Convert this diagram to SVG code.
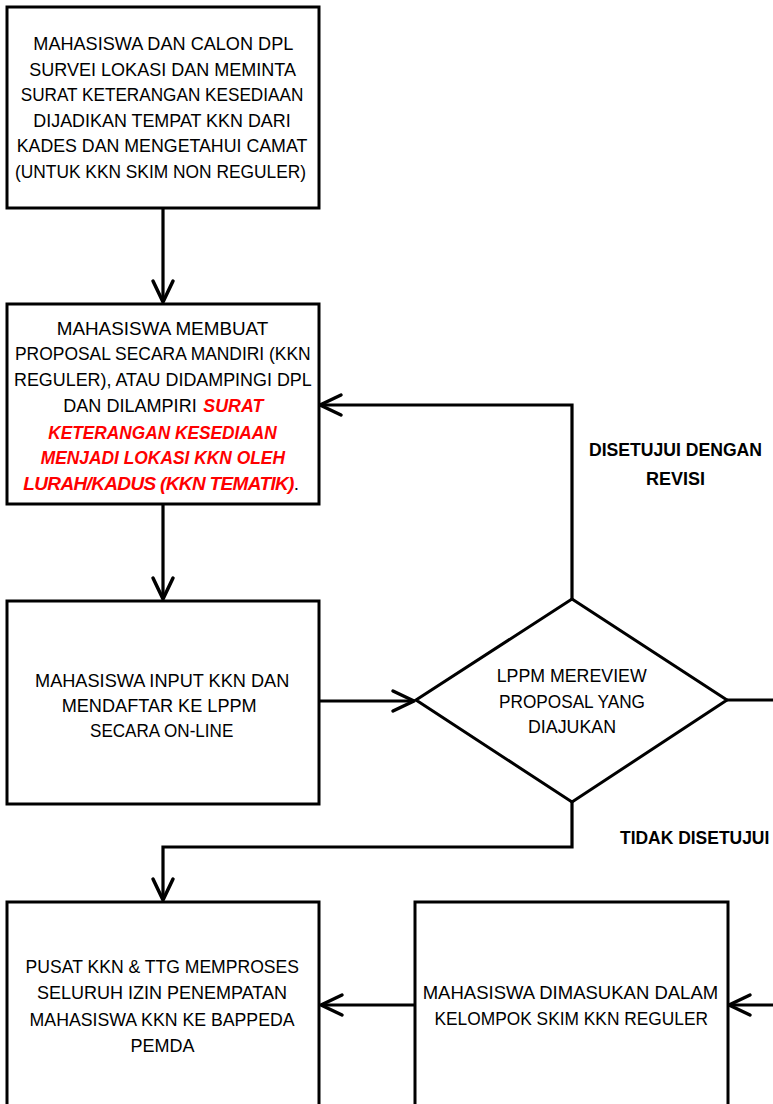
<svg xmlns="http://www.w3.org/2000/svg" width="773" height="1104" viewBox="0 0 773 1104">
<style>
.box{fill:#fff;stroke:#000;stroke-width:3}
.t{font-family:"Liberation Sans",Arial,sans-serif;font-size:19px;fill:#000}
.r{font-family:"Liberation Sans",Arial,sans-serif;font-size:19px;fill:#ff0000;font-weight:bold;font-style:italic}
.lbl{font-family:"Liberation Sans",Arial,sans-serif;font-size:18px;font-weight:bold;fill:#000}
.c{fill:none;stroke:#000;stroke-width:3.2}
</style>
<defs>
<marker id="ah" markerUnits="userSpaceOnUse" markerWidth="30" markerHeight="30" viewBox="-26 -15 30 30" refX="0" refY="0" orient="auto">
<path d="M -21 -10 L 0 0 L -21 10" fill="none" stroke="#000" stroke-width="3.5" stroke-linecap="round" stroke-linejoin="round"/>
</marker>
</defs>
<rect width="773" height="1104" fill="#fff"/>

<g id="connectors">
<path class="c" d="M 163 208 L 163 302" marker-end="url(#ah)"/>
<path class="c" d="M 163 504 L 163 599" marker-end="url(#ah)"/>
<path class="c" d="M 319 701 L 414 701" marker-end="url(#ah)"/>
<path class="c" d="M 572 599 L 572 405 L 320 405" marker-end="url(#ah)"/>
<path class="c" d="M 727 700 L 773 700"/>
<path class="c" d="M 572 802 L 572 847 L 163 847 L 163 900" marker-end="url(#ah)"/>
<path class="c" d="M 415 1005 L 321 1005" marker-end="url(#ah)"/>
<path class="c" d="M 773 1005 L 729 1005" marker-end="url(#ah)"/>
</g>

<g id="node1">
<rect class="box" x="7" y="7" width="312" height="201"/>
<text class="t" x="33.3" y="50" textLength="260" lengthAdjust="spacingAndGlyphs">MAHASISWA DAN CALON DPL</text>
<text class="t" x="29.3" y="75.5" textLength="266.7" lengthAdjust="spacingAndGlyphs">SURVEI LOKASI DAN MEMINTA</text>
<text class="t" x="20.7" y="101" textLength="282.6" lengthAdjust="spacingAndGlyphs">SURAT KETERANGAN KESEDIAAN</text>
<text class="t" x="33.3" y="126.5" textLength="257.4" lengthAdjust="spacingAndGlyphs">DIJADIKAN TEMPAT KKN DARI</text>
<text class="t" x="16.7" y="152" textLength="290.6" lengthAdjust="spacingAndGlyphs">KADES DAN MENGETAHUI CAMAT</text>
<text class="t" x="15" y="177.5" textLength="291" lengthAdjust="spacingAndGlyphs">(UNTUK KKN SKIM NON REGULER)</text>
</g>

<g id="node2">
<rect class="box" x="7" y="304" width="312" height="200"/>
<text class="t" x="56.7" y="335" textLength="211.6" lengthAdjust="spacingAndGlyphs">MAHASISWA MEMBUAT</text>
<text class="t" x="15" y="360" textLength="295.7" lengthAdjust="spacingAndGlyphs">PROPOSAL SECARA MANDIRI (KKN</text>
<text class="t" x="14" y="386" textLength="297.7" lengthAdjust="spacingAndGlyphs">REGULER), ATAU DIDAMPINGI DPL</text>
<text class="t" x="63.3" y="412" textLength="133.4" lengthAdjust="spacingAndGlyphs">DAN DILAMPIRI</text>
<text class="r" x="203.3" y="412" textLength="60" lengthAdjust="spacingAndGlyphs">SURAT</text>
<text class="r" x="48.3" y="438.5" textLength="228.4" lengthAdjust="spacingAndGlyphs">KETERANGAN KESEDIAAN</text>
<text class="r" x="40.7" y="464" textLength="244.3" lengthAdjust="spacingAndGlyphs">MENJADI LOKASI KKN OLEH</text>
<text class="t" x="23.3" y="489.5"><tspan class="r" letter-spacing="-0.65">LURAH/KADUS (KKN TEMATIK)</tspan><tspan>.</tspan></text>
</g>

<g id="node3">
<rect class="box" x="7" y="601" width="312" height="203"/>
<text class="t" x="35" y="686.5" textLength="254.3" lengthAdjust="spacingAndGlyphs">MAHASISWA INPUT KKN DAN</text>
<text class="t" x="61.7" y="711.5" textLength="195" lengthAdjust="spacingAndGlyphs">MENDAFTAR KE LPPM</text>
<text class="t" x="90" y="737" textLength="143.3" lengthAdjust="spacingAndGlyphs">SECARA ON-LINE</text>
</g>

<g id="decision">
<polygon class="box" points="572,599 727,700 572,802 416,700"/>
<text class="t" x="496.7" y="682" textLength="150" lengthAdjust="spacingAndGlyphs">LPPM MEREVIEW</text>
<text class="t" x="499" y="708" textLength="146" lengthAdjust="spacingAndGlyphs">PROPOSAL YANG</text>
<text class="t" x="528" y="733" textLength="88" lengthAdjust="spacingAndGlyphs">DIAJUKAN</text>
</g>

<g id="node4">
<rect class="box" x="7" y="902" width="312" height="210"/>
<text class="t" x="25.6" y="973" textLength="273.4" lengthAdjust="spacingAndGlyphs">PUSAT KKN &amp; TTG MEMPROSES</text>
<text class="t" x="37" y="999" textLength="250" lengthAdjust="spacingAndGlyphs">SELURUH IZIN PENEMPATAN</text>
<text class="t" x="29.6" y="1025.5" textLength="265" lengthAdjust="spacingAndGlyphs">MAHASISWA KKN KE BAPPEDA</text>
<text class="t" x="130.5" y="1052" textLength="64" lengthAdjust="spacingAndGlyphs">PEMDA</text>
</g>

<g id="node5">
<rect class="box" x="415" y="902" width="313" height="210"/>
<text class="t" x="422.7" y="999" textLength="295.5" lengthAdjust="spacingAndGlyphs">MAHASISWA DIMASUKAN DALAM</text>
<text class="t" x="434.5" y="1025" textLength="273.5" lengthAdjust="spacingAndGlyphs">KELOMPOK SKIM KKN REGULER</text>
</g>

<g id="labels">
<text class="lbl" x="589" y="456" textLength="173" lengthAdjust="spacingAndGlyphs">DISETUJUI DENGAN</text>
<text class="lbl" x="675.5" y="485" text-anchor="middle">REVISI</text>
<text class="lbl" x="620" y="844" textLength="149.3" lengthAdjust="spacingAndGlyphs">TIDAK DISETUJUI</text>
</g>
</svg>
